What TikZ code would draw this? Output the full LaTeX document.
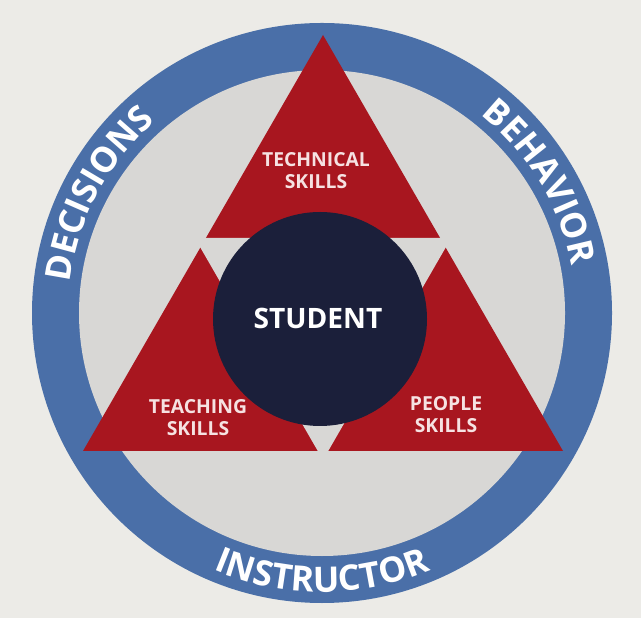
\documentclass[tikz,border=0pt]{standalone}
\usepackage{fontspec}
\setmainfont{Open Sans}
\usetikzlibrary{decorations.text}
\definecolor{paper}{HTML}{ECEBE7}
\definecolor{ringblue}{HTML}{4A6FA8}
\definecolor{discgray}{HTML}{D8D7D5}
\definecolor{skillred}{HTML}{A8161F}
\definecolor{studentnavy}{HTML}{1B1F3A}
\definecolor{labelpink}{HTML}{F6E2E2}

\begin{document}
\begin{tikzpicture}[x=0.02cm,y=0.02cm,
  skill/.style={font=\bfseries\fontsize{11}{12.5}\selectfont, text=labelpink, align=center},
  ringtext/.style={decorate, decoration={text along path, text align=center,
    text color=white, text={|\bfseries\fontsize{20}{24}\selectfont|#1}}}]
\useasboundingbox (0,0) rectangle (641,618);
\fill[paper] (0,0) rectangle (641,618);
% ring and disc
\fill[ringblue] (322,305) circle (290);
\fill[discgray] (322,305) circle (243);
% triangle of skills, the middle cut out
\fill[skillred] (323,583) -- (83,167) -- (563,167) -- cycle;
\fill[discgray, shift={(323,306)}] (150:148) -- (30:148) -- (270:148) -- cycle;
\fill[studentnavy] (320,299) circle (107);
% labels
\node[skill] (technical) at (316,447) {TECHNICAL\\SKILLS};
\node[skill] (teaching) at (198,200) {TEACHING\\SKILLS};
\node[skill] (people) at (446,203) {PEOPLE\\SKILLS};
\node[font=\bfseries\fontsize{16}{18}\selectfont, text=white] (student) at (318,300) {STUDENT};
% words round the ring
\path[ringtext=DECISIONS] (322,305) ++(192:254) arc[start angle=192, end angle=112, radius=254];
\path[ringtext=BEHAVIOR] (322,305) ++(62:254) arc[start angle=62, end angle=0, radius=254];
\path[ringtext=INSTRUCTOR] (322,305) ++(235:279) arc[start angle=235, end angle=305, radius=279];
\end{tikzpicture}
\end{document}
